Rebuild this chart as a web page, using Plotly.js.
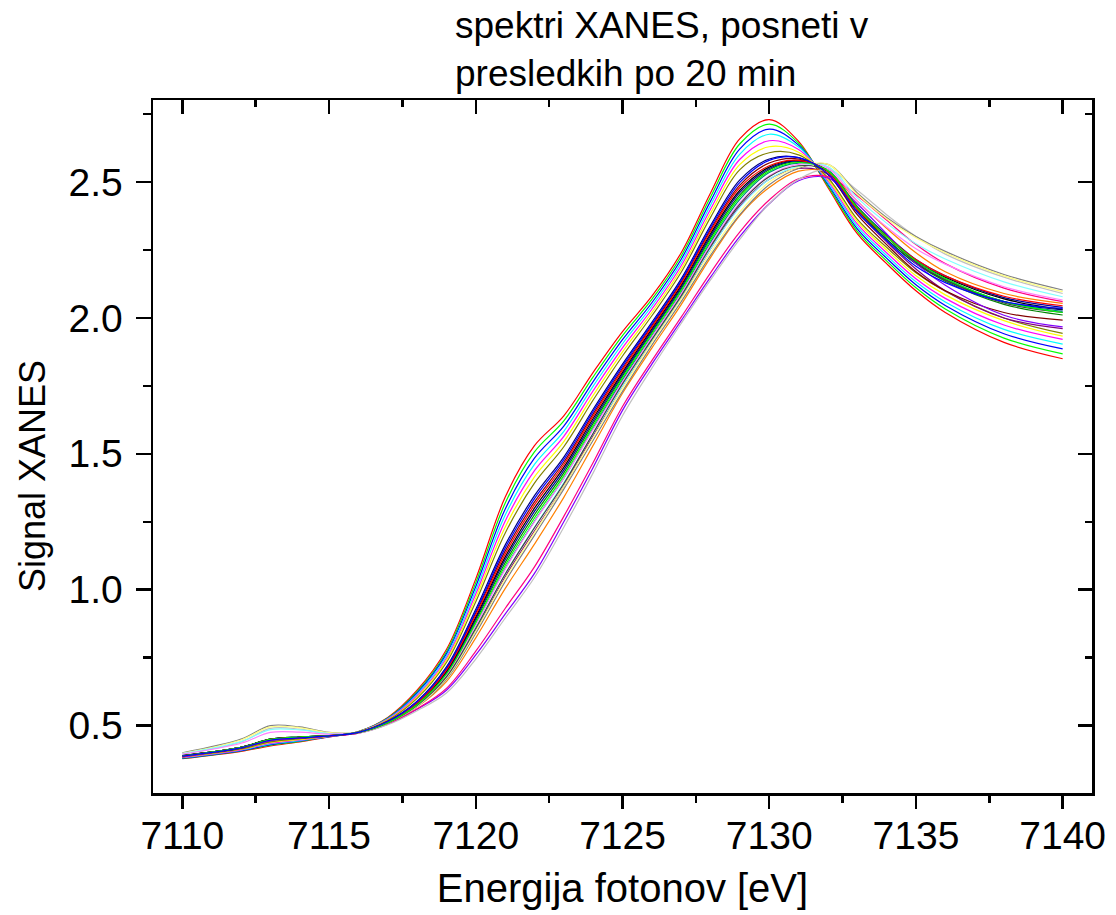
<!DOCTYPE html>
<html>
<head>
<meta charset="utf-8">
<script src="https://cdn.plot.ly/plotly-3.0.1.min.js"></script>
<style>html,body{margin:0;padding:0;background:#fff;}</style>
</head>
<body>
<div id="chart" style="width:1116px;height:915px;"></div>
<script>
// Photon energy grid (eV)
const energy = [7110,7112,7113,7114,7115,7116,7117,7118,7119,7120,7121,7122,7123,7124,7125,7126,7127,7128,7129,7130,7131,7132,7133,7134,7135,7136,7138,7140];

// XANES spectra (one per 20-min interval)
const sRed      = [.378,.405,.425,.440,.458,.478,.530,.630,.780,1.040,1.340,1.530,1.640,1.800,1.950,2.080,2.240,2.460,2.660,2.730,2.650,2.480,2.310,2.200,2.100,2.020,1.910,1.850];
const sGreen    = [.379,.407,.428,.442,.459,.478,.528,.625,.772,1.026,1.318,1.507,1.621,1.783,1.935,2.068,2.228,2.445,2.641,2.713,2.643,2.486,2.319,2.210,2.111,2.033,1.926,1.868];
const sBlue     = [.380,.408,.430,.444,.459,.477,.526,.620,.764,1.012,1.296,1.484,1.602,1.766,1.920,2.056,2.216,2.430,2.622,2.695,2.636,2.492,2.328,2.220,2.122,2.046,1.942,1.886];
const sCyan     = [.382,.410,.433,.445,.460,.477,.525,.615,.756,.998,1.274,1.461,1.583,1.749,1.905,2.044,2.204,2.415,2.603,2.676,2.629,2.498,2.337,2.230,2.133,2.059,1.958,1.904];
const sMagenta  = [.383,.411,.435,.447,.460,.477,.523,.610,.748,.984,1.252,1.438,1.564,1.732,1.890,2.032,2.192,2.400,2.584,2.652,2.620,2.504,2.346,2.240,2.144,2.072,1.974,1.921];
const sYellow   = [.384,.413,.438,.449,.461,.477,.521,.605,.740,.970,1.230,1.415,1.545,1.715,1.875,2.020,2.180,2.385,2.565,2.630,2.610,2.510,2.355,2.250,2.155,2.085,1.990,1.933];
const sDkYellow = [.385,.414,.440,.451,.461,.476,.519,.600,.732,.956,1.208,1.392,1.526,1.698,1.860,2.008,2.168,2.370,2.546,2.608,2.600,2.516,2.364,2.260,2.166,2.098,2.000,1.943];
const sNavy     = [.388,.417,.445,.454,.462,.476,.516,.590,.716,.928,1.164,1.346,1.488,1.664,1.830,1.984,2.144,2.340,2.508,2.585,2.590,2.528,2.390,2.290,2.200,2.140,2.060,2.030];
const sPurple   = [.388,.420,.448,.457,.463,.474,.510,.573,.676,.851,1.047,1.216,1.380,1.567,1.751,1.915,2.075,2.254,2.411,2.510,2.550,2.530,2.390,2.280,2.180,2.100,2.000,1.961];
const sWine     = [.389,.419,.448,.456,.463,.475,.514,.585,.708,.914,1.142,1.323,1.469,1.647,1.815,1.972,2.132,2.325,2.489,2.570,2.585,2.530,2.380,2.270,2.170,2.100,2.020,1.992];
const sDkGreen  = [.390,.420,.450,.458,.463,.475,.511,.578,.693,.886,1.099,1.276,1.430,1.612,1.786,1.947,2.107,2.294,2.453,2.545,2.575,2.540,2.400,2.290,2.200,2.135,2.050,2.011];
const sDkCyan   = [.389,.420,.449,.457,.463,.474,.511,.576,.686,.872,1.078,1.252,1.410,1.594,1.772,1.934,2.094,2.278,2.436,2.535,2.570,2.545,2.410,2.305,2.210,2.145,2.060,2.024];
const sRoyal    = [.390,.420,.450,.458,.463,.475,.512,.579,.697,.893,1.110,1.288,1.440,1.621,1.793,1.953,2.113,2.302,2.462,2.550,2.578,2.540,2.405,2.305,2.215,2.155,2.075,2.039];
const sOrange   = [.387,.420,.447,.456,.462,.473,.508,.569,.662,.823,1.004,1.168,1.340,1.531,1.723,1.889,2.049,2.222,2.377,2.480,2.540,2.535,2.430,2.330,2.240,2.170,2.090,2.054];
const sViolet   = [.385,.420,.445,.455,.462,.472,.505,.560,.630,.760,.910,1.060,1.250,1.450,1.660,1.830,1.990,2.150,2.300,2.420,2.505,2.515,2.420,2.310,2.200,2.120,2.010,1.967];
const sPink     = [.385,.420,.446,.455,.462,.472,.506,.562,.637,.774,.931,1.084,1.270,1.468,1.674,1.843,2.003,2.166,2.317,2.434,2.512,2.520,2.450,2.360,2.270,2.200,2.110,2.060];
const sLtGray   = [.395,.440,.490,.487,.470,.472,.503,.555,.620,.745,.895,1.045,1.230,1.430,1.640,1.815,1.980,2.140,2.290,2.420,2.510,2.545,2.470,2.380,2.300,2.235,2.150,2.090];
const sGray     = [.400,.450,.500,.495,.475,.475,.510,.570,.670,.840,1.030,1.200,1.370,1.550,1.730,1.900,2.060,2.230,2.380,2.490,2.550,2.565,2.460,2.370,2.300,2.245,2.160,2.103];
const sLtYellow = [.398,.447,.495,.492,.474,.475,.510,.571,.675,.848,1.040,1.210,1.380,1.560,1.740,1.910,2.070,2.240,2.390,2.500,2.555,2.565,2.455,2.365,2.295,2.240,2.155,2.097];
const sLtCyan   = [.397,.441,.485,.484,.471,.475,.511,.573,.679,.858,1.057,1.230,1.394,1.574,1.751,1.918,2.078,2.254,2.407,2.510,2.559,2.557,2.442,2.349,2.273,2.217,2.133,2.078];
const sLtMagenta= [.395,.435,.475,.476,.469,.475,.511,.575,.685,.870,1.075,1.250,1.410,1.590,1.765,1.930,2.090,2.270,2.425,2.523,2.565,2.552,2.430,2.335,2.255,2.198,2.115,2.066];
const sDkGray   = [.388,.420,.448,.457,.463,.474,.510,.574,.679,.858,1.057,1.228,1.390,1.576,1.758,1.921,2.081,2.262,2.419,2.520,2.560,2.540,2.410,2.300,2.205,2.140,2.055,2.020];
const sBlack    = [.390,.420,.450,.458,.463,.475,.512,.580,.700,.900,1.120,1.300,1.450,1.630,1.800,1.960,2.120,2.310,2.470,2.555,2.580,2.540,2.400,2.300,2.210,2.150,2.070,2.032];
const sRed2     = [.389,.419,.449,.457,.463,.475,.513,.583,.704,.907,1.131,1.312,1.460,1.639,1.808,1.966,2.126,2.318,2.480,2.560,2.580,2.540,2.400,2.300,2.215,2.155,2.080,2.045];
const sGreen2   = [.389,.420,.449,.458,.463,.475,.511,.577,.690,.879,1.089,1.264,1.420,1.603,1.779,1.941,2.101,2.286,2.445,2.540,2.572,2.542,2.405,2.300,2.210,2.145,2.060,2.020];
const sBlue2    = [.388,.418,.446,.455,.462,.475,.515,.588,.712,.921,1.153,1.335,1.479,1.656,1.823,1.978,2.138,2.333,2.499,2.580,2.590,2.530,2.390,2.285,2.190,2.130,2.060,2.035];

const spectra = [sRed,sGreen,sBlue,sCyan,sMagenta,sYellow,sDkYellow,sNavy,sPurple,sWine,sDkGreen,sDkCyan,sRoyal,sOrange,sViolet,sPink,sLtGray,sGray,sLtYellow,sLtCyan,sLtMagenta,sDkGray,sBlack,sRed2,sGreen2,sBlue2];
const colors  = ['#FF0000','#00FF00','#0000FF','#00FFFF','#FF00FF','#FFFF00','#808000','#000080','#800080','#800000','#008000','#008080','#0000A0','#FF8000','#8000FF','#FF0080','#C0C0C0','#808080','#FFFF80','#80FFFF','#FF80FF','#404040','#000000','#FF0000','#00FF00','#0000FF'];

const xRange = [7109, 7141];
const yRange = [0.252, 2.802];

const traces = spectra.map((ys, i) => ({
  x: energy, y: ys, type: 'scatter', mode: 'lines',
  line: {color: colors[i], width: 1.2, shape: 'spline', smoothing: 1},
  hoverinfo: 'x+y', showlegend: false
}));
// empty trace to register the mirrored frame axes
traces.push({x: [], y: [], xaxis: 'x2', yaxis: 'y2', type: 'scatter', mode: 'lines', showlegend: false, hoverinfo: 'skip'});

const font = 'Liberation Sans, Arial, Helvetica, sans-serif';
const axCommon = {showgrid: false, zeroline: false, showline: true, linewidth: 2.5, linecolor: '#000', tickcolor: '#000', tickwidth: 2.5};

const layout = {
  width: 1116, height: 915,
  margin: {l: 153, r: 24, t: 100, b: 122, pad: 0},
  paper_bgcolor: '#fff', plot_bgcolor: '#fff',
  showlegend: false,
  font: {family: font, color: '#000'},
  title: {
    text: 'spektri XANES, posneti v<br>presledkih po 20 min',
    xref: 'container', x: 455/1116, xanchor: 'left',
    yref: 'container', y: 1 - 38/915, yanchor: 'top',
    font: {family: font, size: 37, color: '#000'}
  },
  xaxis: Object.assign({}, axCommon, {
    range: xRange, tick0: 7110, dtick: 5, ticks: 'outside', ticklen: 13,
    tickfont: {size: 39}, ticklabelstandoff: -6,
    minor: {tick0: 7110, dtick: 2.5, ticks: 'outside', ticklen: 7, tickwidth: 2.5, tickcolor: '#000', showgrid: false},
    title: {text: 'Energija fotonov [eV]', font: {size: 40}, standoff: 18},
    automargin: false
  }),
  yaxis: Object.assign({}, axCommon, {
    range: yRange, tick0: 0.5, dtick: 0.5, tickformat: '.1f', ticks: 'outside', ticklen: 15,
    tickfont: {size: 39}, ticklabelstandoff: 5,
    minor: {tick0: 0.5, dtick: 0.25, ticks: 'outside', ticklen: 8, tickwidth: 2.5, tickcolor: '#000', showgrid: false},
    title: {text: ''},
    automargin: false
  }),
  xaxis2: Object.assign({}, axCommon, {
    overlaying: 'x', anchor: 'y2', side: 'top', range: xRange, tick0: 7110, dtick: 5,
    ticks: 'inside', ticklen: 14, showticklabels: false,
    minor: {tick0: 7110, dtick: 2.5, ticks: 'inside', ticklen: 7, tickwidth: 2.5, tickcolor: '#000', showgrid: false}
  }),
  yaxis2: Object.assign({}, axCommon, {
    overlaying: 'y', anchor: 'x2', side: 'right', range: yRange, tick0: 0.5, dtick: 0.5,
    ticks: 'inside', ticklen: 14, showticklabels: false,
    minor: {tick0: 0.5, dtick: 0.25, ticks: 'inside', ticklen: 7, tickwidth: 2.5, tickcolor: '#000', showgrid: false}
  }),
  annotations: [{
    // y-axis title, placed where the reference draws it
    text: 'Signal XANES', textangle: -90, showarrow: false,
    xref: 'paper', yref: 'paper', x: (32 - 153) / 939, y: (793 - 476) / 693,
    xanchor: 'center', yanchor: 'middle',
    font: {family: font, size: 36, color: '#000'}
  }]
};

Plotly.newPlot('chart', traces, layout, {displayModeBar: false, staticPlot: true});
</script>
</body>
</html>
